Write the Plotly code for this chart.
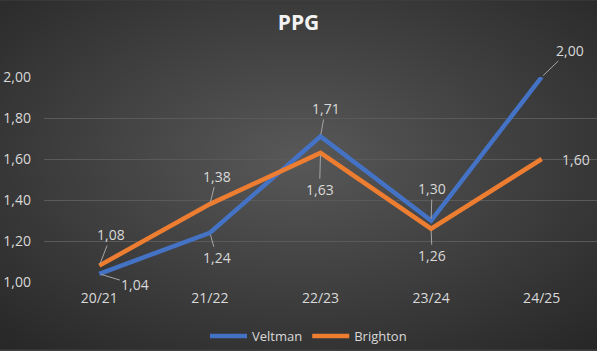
import base64
import plotly.graph_objects as go

# ---- data ----
seasons = ["20/21", "21/22", "22/23", "23/24", "24/25"]
veltman = [1.04, 1.24, 1.71, 1.30, 2.00]
brighton = [1.08, 1.38, 1.63, 1.26, 1.60]
y_ticks = [1.0, 1.2, 1.4, 1.6, 1.8, 2.0]

# ---- styling ----
W, H = 597, 351
ML, MR, MT, MB = 44, 0, 77, 68
BLUE = "#4472C4"
ORANGE = "#ED7D31"
TXT = "#D9D9D9"
FONT = "Open Sans"

# label offsets (pixels) for data labels: (ax, ay, show_leader)
v_off = [(36, 11, True), (7, 25, True), (5, -28, True), (1, -32, True), (28, -27, True)]
b_off = [(12, -31, True), (7, -28, True), (-1, 37, True), (1, 27, True), (34, 0, False)]

def fmt(v):
    return f"{v:.2f}".replace(".", ",")

fig = go.Figure()
fig.add_trace(go.Scatter(x=seasons, y=veltman, name="Veltman", mode="lines",
                         line=dict(color=BLUE, width=4.5), cliponaxis=False))
fig.add_trace(go.Scatter(x=seasons, y=brighton, name="Brighton", mode="lines",
                         line=dict(color=ORANGE, width=4.5), cliponaxis=False))

annotations = []
for series, offs in ((veltman, v_off), (brighton, b_off)):
    for s, v, (ax, ay, lead) in zip(seasons, series, offs):
        annotations.append(dict(
            x=s, y=v, xref="x", yref="y", text=fmt(v),
            showarrow=lead, arrowhead=0, arrowwidth=1, arrowcolor="#A6A6A6",
            ax=ax, ay=ay, standoff=2, startstandoff=0,
            font=dict(family=FONT, size=14, color=TXT),
            **({} if lead else dict(xshift=ax, yshift=-ay))
        ))

# background radial gradient as svg image
svg = f'''<svg xmlns="http://www.w3.org/2000/svg" width="{W}" height="{H}">
<defs><radialGradient id="g" cx="50%" cy="45%" r="75%">
<stop offset="0%" stop-color="#585858"/>
<stop offset="100%" stop-color="#262626"/>
</radialGradient></defs>
<rect width="{W}" height="{H}" fill="url(#g)"/></svg>'''
src = "data:image/svg+xml;base64," + base64.b64encode(svg.encode()).decode()
pw, ph = W - ML - MR, H - MT - MB

fig.update_layout(
    width=W, height=H,
    margin=dict(l=ML, r=MR, t=MT, b=MB),
    paper_bgcolor="#404040", plot_bgcolor="rgba(0,0,0,0)",
    separators=", ",
    images=[dict(source=src, xref="paper", yref="paper",
                 x=-ML / pw, y=1 + MT / ph, sizex=W / pw, sizey=H / ph,
                 xanchor="left", yanchor="top", sizing="stretch", layer="below")],
    title=dict(text="<b>PPG</b>", x=0.5, xanchor="center", xref="container",
               y=1 - 23 / H, yanchor="middle", yref="container",
               font=dict(family=FONT, size=21, color="#F2F2F2")),
    font=dict(family=FONT, size=13, color=TXT),
    xaxis=dict(showgrid=False, zeroline=False, showline=False, ticks="",
               tickfont=dict(size=14, color=TXT), range=[-0.5, 4.5],
               ticklabelstandoff=6),
    yaxis=dict(range=[1.0, 2.0], tickvals=y_ticks, tickformat=".2f",
               showgrid=True, gridcolor="#5A5A5A", gridwidth=1,
               zeroline=False, showline=False, ticks="",
               tickfont=dict(size=14, color=TXT), ticklabelstandoff=12),
    legend=dict(orientation="h", x=0.5 - 12 / pw, xanchor="center", y=-54 / ph,
                yanchor="middle", font=dict(size=13, color=TXT),
                bgcolor="rgba(0,0,0,0)", itemwidth=37),
    annotations=annotations,
    showlegend=True,
)

fig.write_html("out.html")
